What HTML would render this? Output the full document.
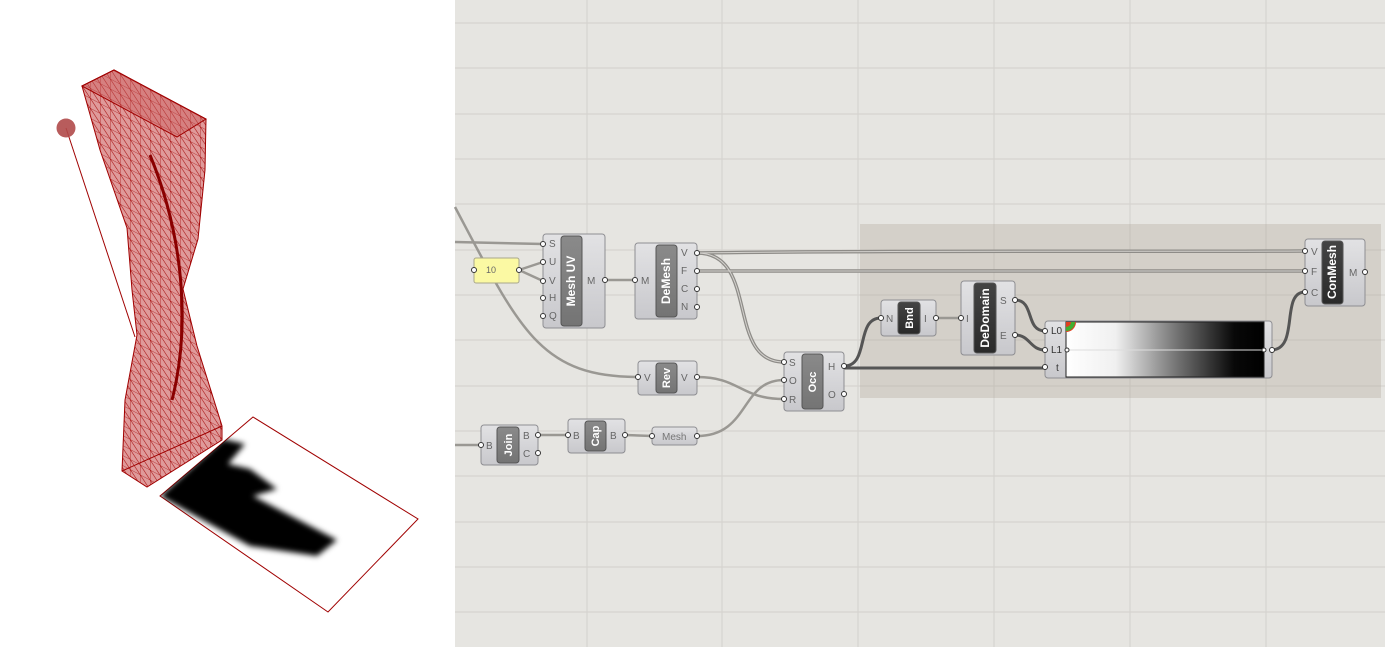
<!DOCTYPE html>
<html><head><meta charset="utf-8"><style>
html,body{margin:0;padding:0;background:#fff;}
svg{display:block;font-family:"Liberation Sans",sans-serif;}
.lbl{font-size:10px;fill:#666;}
.ttl{font-size:11px;font-weight:bold;fill:#fff;}
</style></head><body>
<svg width="1385" height="647" viewBox="0 0 1385 647" xmlns="http://www.w3.org/2000/svg">
<defs>
<pattern id="mesh" width="10" height="10" patternUnits="userSpaceOnUse" patternTransform="skewY(28)">
<path d="M0 0H10M0 0V10M0 0L10 10" stroke="#a00000" stroke-width="0.7" fill="none"/>
</pattern>
<linearGradient id="body" x1="0" y1="0" x2="0" y2="1"><stop offset="0" stop-color="#e2e2e4"/><stop offset="1" stop-color="#c8c8cc"/></linearGradient>
<linearGradient id="inner" x1="0" y1="0" x2="0" y2="1"><stop offset="0" stop-color="#8a8a8a"/><stop offset="1" stop-color="#747474"/></linearGradient>
<linearGradient id="innerD" x1="0" y1="0" x2="0" y2="1"><stop offset="0" stop-color="#444"/><stop offset="1" stop-color="#2a2a2a"/></linearGradient>
<linearGradient id="grad" x1="0" y1="0" x2="1" y2="0"><stop offset="0" stop-color="#fff"/><stop offset="0.25" stop-color="#f0f0f0"/><stop offset="0.55" stop-color="#777"/><stop offset="0.85" stop-color="#080808"/><stop offset="1" stop-color="#000"/></linearGradient>
<filter id="blur"><feGaussianBlur stdDeviation="3"/></filter>
<clipPath id="plane"><polygon points="160,496 253,417 418,519 328,612"/></clipPath>
</defs>
<rect x="0" y="0" width="455" height="647" fill="#fff"/>
<line x1="66" y1="128" x2="135" y2="337" stroke="#a00000" stroke-width="1"/>
<circle cx="66" cy="128" r="9.5" fill="#b04a4a" opacity="0.9"/>
<polygon points="82,86 114,70 206,119 205,170 198,239 183,289 197,346 222,426 222,440 147,487 122,471 125,400 137,335 132,290 127,228 100,150" fill="rgba(185,30,30,0.45)" stroke="#a00000" stroke-width="1"/>
<polygon points="82,86 114,70 206,119 205,170 198,239 183,289 197,346 222,426 222,440 147,487 122,471 125,400 137,335 132,290 127,228 100,150" fill="url(#mesh)" opacity="0.9"/>
<polygon points="82,86 114,70 206,119 177,137" fill="rgba(200,90,90,0.4)" stroke="#a00000"/>
<path d="M150,155 C185,240 190,330 172,400" stroke="#8a0000" stroke-width="3" fill="none"/>
<path d="M122,471 L222,426" stroke="#a00000" stroke-width="1"/>
<polygon points="160,496 253,417 418,519 328,612" fill="#fff" stroke="#a00000" stroke-width="1"/>
<g clip-path="url(#plane)"><polygon points="160,496 223,439 245,444 228,464 250,469 277,489 253,496 337,540 317,556 250,546 210,524" fill="#000" filter="url(#blur)"/></g>
<rect x="455" y="0" width="930" height="647" fill="#e6e5e1"/>
<g stroke="#d2d1cd" stroke-width="1">
<path d="M587 0V647M722 0V647M858 0V647M994 0V647M1130 0V647M1266 0V647"/>
</g>
<g stroke="#d6d4d0" stroke-width="1.2">
<path d="M455 23H1385M455 68H1385M455 114H1385M455 159H1385M455 204H1385M455 250H1385M455 295H1385M455 340H1385M455 386H1385M455 431H1385M455 476H1385M455 522H1385M455 567H1385M455 612H1385"/>
</g>
<rect x="860" y="224" width="521" height="174" fill="#d4d0c9"/>
<g stroke="#c6c2bb" stroke-width="1"><path d="M994 224V398M1130 224V398M1266 224V398M860 250H1381M860 295H1381M860 340H1381M860 386H1381"/></g>
<g fill="none" stroke="#9a9893" stroke-width="2.5">
<path d="M455,242 L543,244"/>
<path d="M455,207 C520,330 540,377 638,377"/>
<path d="M519,270 L543,262 M519,270 L543,281"/>
<path d="M605,280 L635,280"/>
<path d="M697,377 C740,377 740,399 784,399"/>
<path d="M697,436 C750,436 740,380 784,380"/>
<path d="M538,435 L568,435 M625,435 L652,436"/>
<path d="M455,445 L481,445"/>
<path d="M936,318 L961,318"/>
</g>
<g fill="none" stroke="#8e8c88" stroke-width="3.5">
<path d="M697,253 C900,250 1100,252 1305,251"/>
<path d="M697,271 L1305,271"/>
<path d="M697,253 C760,253 725,362 784,362"/>
</g>
<g fill="none" stroke="#d4d2ce" stroke-width="1">
<path d="M697,253 C900,250 1100,252 1305,251"/>
<path d="M697,271 L1305,271"/>
<path d="M697,253 C760,253 725,362 784,362"/>
</g>
<g fill="none" stroke="#555" stroke-width="3">
<path d="M844,366 C870,366 855,318 881,318"/>
<path d="M844,368 L1045,368"/>
<path d="M1015,300 C1035,300 1025,331 1045,331"/>
<path d="M1015,335 C1030,335 1030,350 1045,350"/>
<path d="M1271,350 C1300,350 1280,292 1305,292"/>
</g>
<rect x="474" y="258" width="45" height="25" rx="2" fill="#fbf9a3" stroke="#a8a68c"/>
<text x="486" y="273" font-size="9" fill="#666">10</text>
<g stroke="#8e8e92" stroke-width="1">
<rect x="543" y="234" width="62" height="94" rx="3" fill="url(#body)"/>
<rect x="635" y="243" width="62" height="76" rx="3" fill="url(#body)"/>
<rect x="638" y="361" width="59" height="34" rx="3" fill="url(#body)"/>
<rect x="784" y="352" width="60" height="59" rx="3" fill="url(#body)"/>
<rect x="481" y="425" width="57" height="40" rx="3" fill="url(#body)"/>
<rect x="568" y="419" width="57" height="34" rx="3" fill="url(#body)"/>
<rect x="652" y="427" width="45" height="18" rx="3" fill="url(#body)"/>
<rect x="881" y="300" width="55" height="36" rx="3" fill="url(#body)"/>
<rect x="961" y="281" width="54" height="74" rx="3" fill="url(#body)"/>
<rect x="1045" y="321" width="227" height="57" rx="3" fill="url(#body)"/>
<rect x="1305" y="239" width="60" height="67" rx="3" fill="url(#body)"/>
</g>
<g stroke="#555" stroke-width="1">
<rect x="561" y="236" width="21" height="90" rx="3" fill="url(#inner)"/>
<rect x="656" y="245" width="21" height="72" rx="3" fill="url(#inner)"/>
<rect x="656" y="363" width="21" height="30" rx="3" fill="url(#inner)"/>
<rect x="802" y="354" width="21" height="55" rx="3" fill="url(#inner)"/>
<rect x="497" y="427" width="22" height="36" rx="3" fill="url(#inner)"/>
<rect x="585" y="421" width="21" height="30" rx="3" fill="url(#inner)"/>
<rect x="898" y="302" width="22" height="32" rx="3" fill="url(#innerD)"/>
<rect x="974" y="283" width="22" height="70" rx="3" fill="url(#innerD)"/>
<rect x="1322" y="241" width="21" height="63" rx="3" fill="url(#innerD)"/>
</g>
<rect x="1066" y="322" width="198" height="55" fill="url(#grad)" stroke="#222"/>
<line x1="1066" y1="350" x2="1264" y2="350" stroke="#ddd" stroke-width="1"/>
<path d="M1066,322 h10 a10,10 0 0 1 -10,10 z" fill="#e04020"/>
<path d="M1066,327 a5,5 0 0 0 5,-5 h4 a9,9 0 0 1 -9,9z" fill="#40b030"/>
<g class="ttl" text-anchor="middle">
<text transform="translate(575,281) rotate(-90)" font-size="12">Mesh UV</text>
<text transform="translate(670,281) rotate(-90)" font-size="12">DeMesh</text>
<text transform="translate(670,378) rotate(-90)">Rev</text>
<text transform="translate(816,382) rotate(-90)">Occ</text>
<text transform="translate(512,445) rotate(-90)">Join</text>
<text transform="translate(599,436) rotate(-90)">Cap</text>
<text transform="translate(913,318) rotate(-90)">Bnd</text>
<text transform="translate(989,318) rotate(-90)" font-size="12">DeDomain</text>
<text transform="translate(1336,272) rotate(-90)" font-size="12">ConMesh</text>
</g>
<g class="lbl">
<text x="549" y="247">S</text><text x="549" y="265">U</text><text x="549" y="284">V</text><text x="549" y="301">H</text><text x="549" y="319">Q</text><text x="587" y="284">M</text>
<text x="641" y="284">M</text><text x="681" y="256">V</text><text x="681" y="274">F</text><text x="681" y="292">C</text><text x="681" y="310">N</text>
<text x="644" y="381">V</text><text x="681" y="381">V</text>
<text x="789" y="366">S</text><text x="789" y="384">O</text><text x="789" y="403">R</text><text x="828" y="370">H</text><text x="828" y="398">O</text>
<text x="486" y="449">B</text><text x="523" y="439">B</text><text x="523" y="457">C</text>
<text x="573" y="439">B</text><text x="610" y="439">B</text>
<text x="662" y="440" fill="#777">Mesh</text>
<text x="886" y="322">N</text><text x="924" y="322">I</text>
<text x="966" y="322">I</text><text x="1000" y="304">S</text><text x="1000" y="339">E</text>
<text x="1051" y="334" fill="#333">L0</text><text x="1051" y="353" fill="#333">L1</text><text x="1056" y="371" fill="#333">t</text>
<text x="1311" y="255">V</text><text x="1311" y="275">F</text><text x="1311" y="296">C</text><text x="1349" y="276">M</text>
</g>
<g fill="#fff" stroke="#333" stroke-width="1">
<circle cx="543" cy="244" r="2.5"/><circle cx="543" cy="262" r="2.5"/><circle cx="543" cy="281" r="2.5"/><circle cx="543" cy="298" r="2.5"/><circle cx="543" cy="316" r="2.5"/><circle cx="605" cy="280" r="2.5"/>
<circle cx="635" cy="280" r="2.5"/><circle cx="697" cy="253" r="2.5"/><circle cx="697" cy="271" r="2.5"/><circle cx="697" cy="289" r="2.5"/><circle cx="697" cy="307" r="2.5"/>
<circle cx="638" cy="377" r="2.5"/><circle cx="697" cy="377" r="2.5"/>
<circle cx="784" cy="362" r="2.5"/><circle cx="784" cy="380" r="2.5"/><circle cx="784" cy="399" r="2.5"/><circle cx="844" cy="366" r="2.5"/><circle cx="844" cy="394" r="2.5"/>
<circle cx="481" cy="445" r="2.5"/><circle cx="538" cy="435" r="2.5"/><circle cx="538" cy="453" r="2.5"/>
<circle cx="568" cy="435" r="2.5"/><circle cx="625" cy="435" r="2.5"/><circle cx="652" cy="436" r="2.5"/><circle cx="697" cy="436" r="2.5"/>
<circle cx="474" cy="270" r="2.5"/><circle cx="519" cy="270" r="2.5"/>
<circle cx="881" cy="318" r="2.5"/><circle cx="936" cy="318" r="2.5"/>
<circle cx="961" cy="318" r="2.5"/><circle cx="1015" cy="300" r="2.5"/><circle cx="1015" cy="335" r="2.5"/>
<circle cx="1045" cy="331" r="2.5"/><circle cx="1045" cy="350" r="2.5"/><circle cx="1045" cy="367" r="2.5"/><circle cx="1272" cy="350" r="2.5"/>
<circle cx="1067" cy="350" r="2"/><circle cx="1264" cy="350" r="2"/>
<circle cx="1305" cy="251" r="2.5"/><circle cx="1305" cy="271" r="2.5"/><circle cx="1305" cy="292" r="2.5"/><circle cx="1365" cy="272" r="2.5"/>
</g>
</svg>
</body></html>
